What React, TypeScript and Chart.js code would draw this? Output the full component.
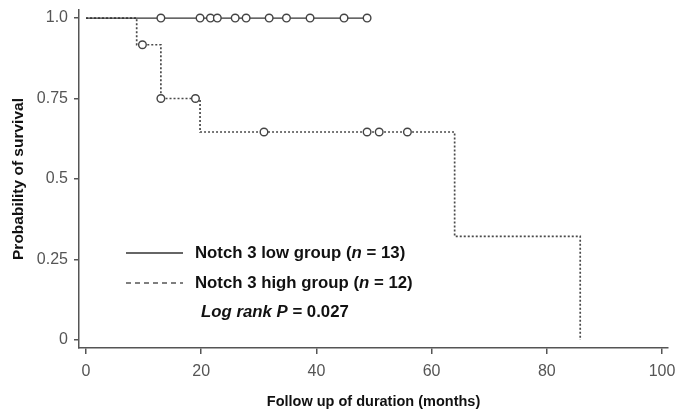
import { useEffect, useRef } from "react";
import { Chart, registerables } from "chart.js";

Chart.register(...registerables);

// ---- data ----
const xTickValues = [0, 20, 40, 60, 80, 100];
const yTickValues = [0, 0.25, 0.5, 0.75, 1];
const yTickLabels = ["0", "0.25", "0.5", "0.75", "1.0"];

const lowTimes = [0, 48.8];
const lowSurvival = [1, 1];
const lowCensorTimes = [13, 19.8, 21.6, 22.8, 25.9, 27.8, 31.8, 34.8, 38.9, 44.8, 48.8];
const lowCensorSurvival = [1, 1, 1, 1, 1, 1, 1, 1, 1, 1, 1];

const highTimes = [0, 8.8, 13, 19.8, 64, 85.8];
const highSurvival = [1, 0.917, 0.75, 0.646, 0.322, 0];
const highCensorTimes = [9.8, 13, 19, 30.9, 48.8, 50.9, 55.8];
const highCensorSurvival = [0.917, 0.75, 0.75, 0.646, 0.646, 0.646, 0.646];

const lowLabel = ["Notch 3 low group (", "n", " = 13)"];
const highLabel = ["Notch 3 high group (", "n", " = 12)"];
const logRankLabel = ["Log rank P", " = 0.027"];

const FONT = "'Liberation Sans', Arial, sans-serif";
const AXIS = "#555";

const pts = (xs: number[], ys: number[]) => xs.map((x, i) => ({ x, y: ys[i] }));

const legendPlugin = {
  id: "kmLegend",
  afterDraw(chart: any) {
    const ctx = chart.ctx as CanvasRenderingContext2D;
    const { left, top } = chart.chartArea;
    const x0 = left + 47;
    const x1 = left + 104;
    const tx = left + 116;
    const rows = [top + 243, top + 273, top + 302];
    ctx.save();
    ctx.strokeStyle = "#333";
    ctx.lineWidth = 1.4;
    ctx.beginPath();
    ctx.moveTo(x0, rows[0]);
    ctx.lineTo(x1, rows[0]);
    ctx.stroke();
    ctx.strokeStyle = AXIS;
    ctx.lineWidth = 1.6;
    ctx.setLineDash([5, 4]);
    ctx.beginPath();
    ctx.moveTo(x0, rows[1]);
    ctx.lineTo(x1, rows[1]);
    ctx.stroke();
    ctx.setLineDash([]);

    ctx.fillStyle = "#111";
    ctx.textBaseline = "middle";
    ctx.textAlign = "left";
    const drawParts = (parts: string[], fonts: string[], x: number, y: number) => {
      let cx = x;
      parts.forEach((p, i) => {
        ctx.font = fonts[i];
        ctx.fillText(p, cx, y);
        cx += ctx.measureText(p).width;
      });
    };
    const b = `bold 16.8px ${FONT}`;
    const bi = `italic bold 16.8px ${FONT}`;
    drawParts(lowLabel, [b, bi, b], tx, rows[0]);
    drawParts(highLabel, [b, bi, b], tx, rows[1]);
    drawParts(logRankLabel, [bi, b], left + 122, rows[2]);
    ctx.restore();
  },
};

const zeroPad = (s: any) => {
  s.paddingTop = 0;
  s.paddingBottom = 0;
  s.paddingLeft = 0;
  s.paddingRight = 0;
};

export default function App() {
  const ref = useRef<HTMLCanvasElement | null>(null);
  useEffect(() => {
    if (!ref.current) return;
    Chart.defaults.font.family = FONT;
    const chart = new Chart(ref.current, {
      type: "line",
      data: {
        datasets: [
          {
            type: "scatter",
            label: "low censored",
            data: pts(lowCensorTimes, lowCensorSurvival),
            showLine: false,
            pointStyle: "circle",
            pointRadius: 3.8,
            pointBorderWidth: 1.4,
            pointBorderColor: "#444",
            pointBackgroundColor: "#fff",
            order: 0,
          },
          {
            type: "scatter",
            label: "high censored",
            data: pts(highCensorTimes, highCensorSurvival),
            showLine: false,
            pointStyle: "circle",
            pointRadius: 3.8,
            pointBorderWidth: 1.4,
            pointBorderColor: "#444",
            pointBackgroundColor: "#fff",
            order: 0,
          },
          {
            label: "Notch 3 low group",
            data: pts(lowTimes, lowSurvival),
            stepped: "before",
            borderColor: "#333",
            borderWidth: 1.3,
            pointRadius: 0,
            fill: false,
            order: 1,
          },
          {
            label: "Notch 3 high group",
            data: pts(highTimes, highSurvival),
            stepped: "before",
            borderColor: "#4a4a4a",
            borderWidth: 1.7,
            borderDash: [2, 2],
            pointRadius: 0,
            fill: false,
            order: 1,
          },
        ],
      } as any,
      options: {
        animation: false,
        responsive: false,
        layout: { padding: { top: 10, right: 8, left: 0, bottom: 0 } },
        plugins: { legend: { display: false }, tooltip: { enabled: false } },
        scales: {
          x: {
            type: "linear",
            min: -1.215,
            max: 101.04,
            afterBuildTicks: (s: any) => {
              s.ticks = xTickValues.map((v) => ({ value: v }));
            },
            afterFit: (s: any) => {
              s.height = 63;
              zeroPad(s);
            },
            ticks: {
              autoSkip: false,
              maxRotation: 0,
              font: { size: 16 },
              color: AXIS,
              padding: 8,
            },
            grid: { drawOnChartArea: false, tickLength: 6, color: AXIS, lineWidth: 1.5 },
            border: { color: AXIS, width: 1.5 },
            title: {
              display: true,
              text: "Follow up of duration (months)",
              font: { size: 14.5, weight: "bold" },
              color: "#111",
              padding: { top: 0, bottom: 0 },
            },
          },
          y: {
            type: "linear",
            min: -0.025,
            max: 1.025,
            afterBuildTicks: (s: any) => {
              s.ticks = yTickValues.map((v) => ({ value: v }));
            },
            afterFit: (s: any) => {
              s.width = 79;
              zeroPad(s);
            },
            ticks: {
              autoSkip: false,
              font: { size: 16 },
              color: AXIS,
              padding: 6,
              callback: (v: any) => {
                const i = yTickValues.indexOf(Number(v));
                return i >= 0 ? yTickLabels[i] : "";
              },
            },
            grid: { drawOnChartArea: false, tickLength: 5, color: AXIS, lineWidth: 1.5 },
            border: { color: AXIS, width: 1.5 },
            title: {
              display: true,
              text: "Probability of survival",
              font: { size: 15.5, weight: "bold" },
              color: "#111",
              padding: { top: 9, bottom: 0 },
            },
          },
        },
      } as any,
      plugins: [legendPlugin],
    });
    return () => chart.destroy();
  }, []);
  return (
    <div style={{ position: "fixed", left: 0, top: 0, width: 676, height: 411, background: "#fff" }}>
      <canvas ref={ref} width={676} height={411} style={{ display: "block" }} />
    </div>
  );
}
